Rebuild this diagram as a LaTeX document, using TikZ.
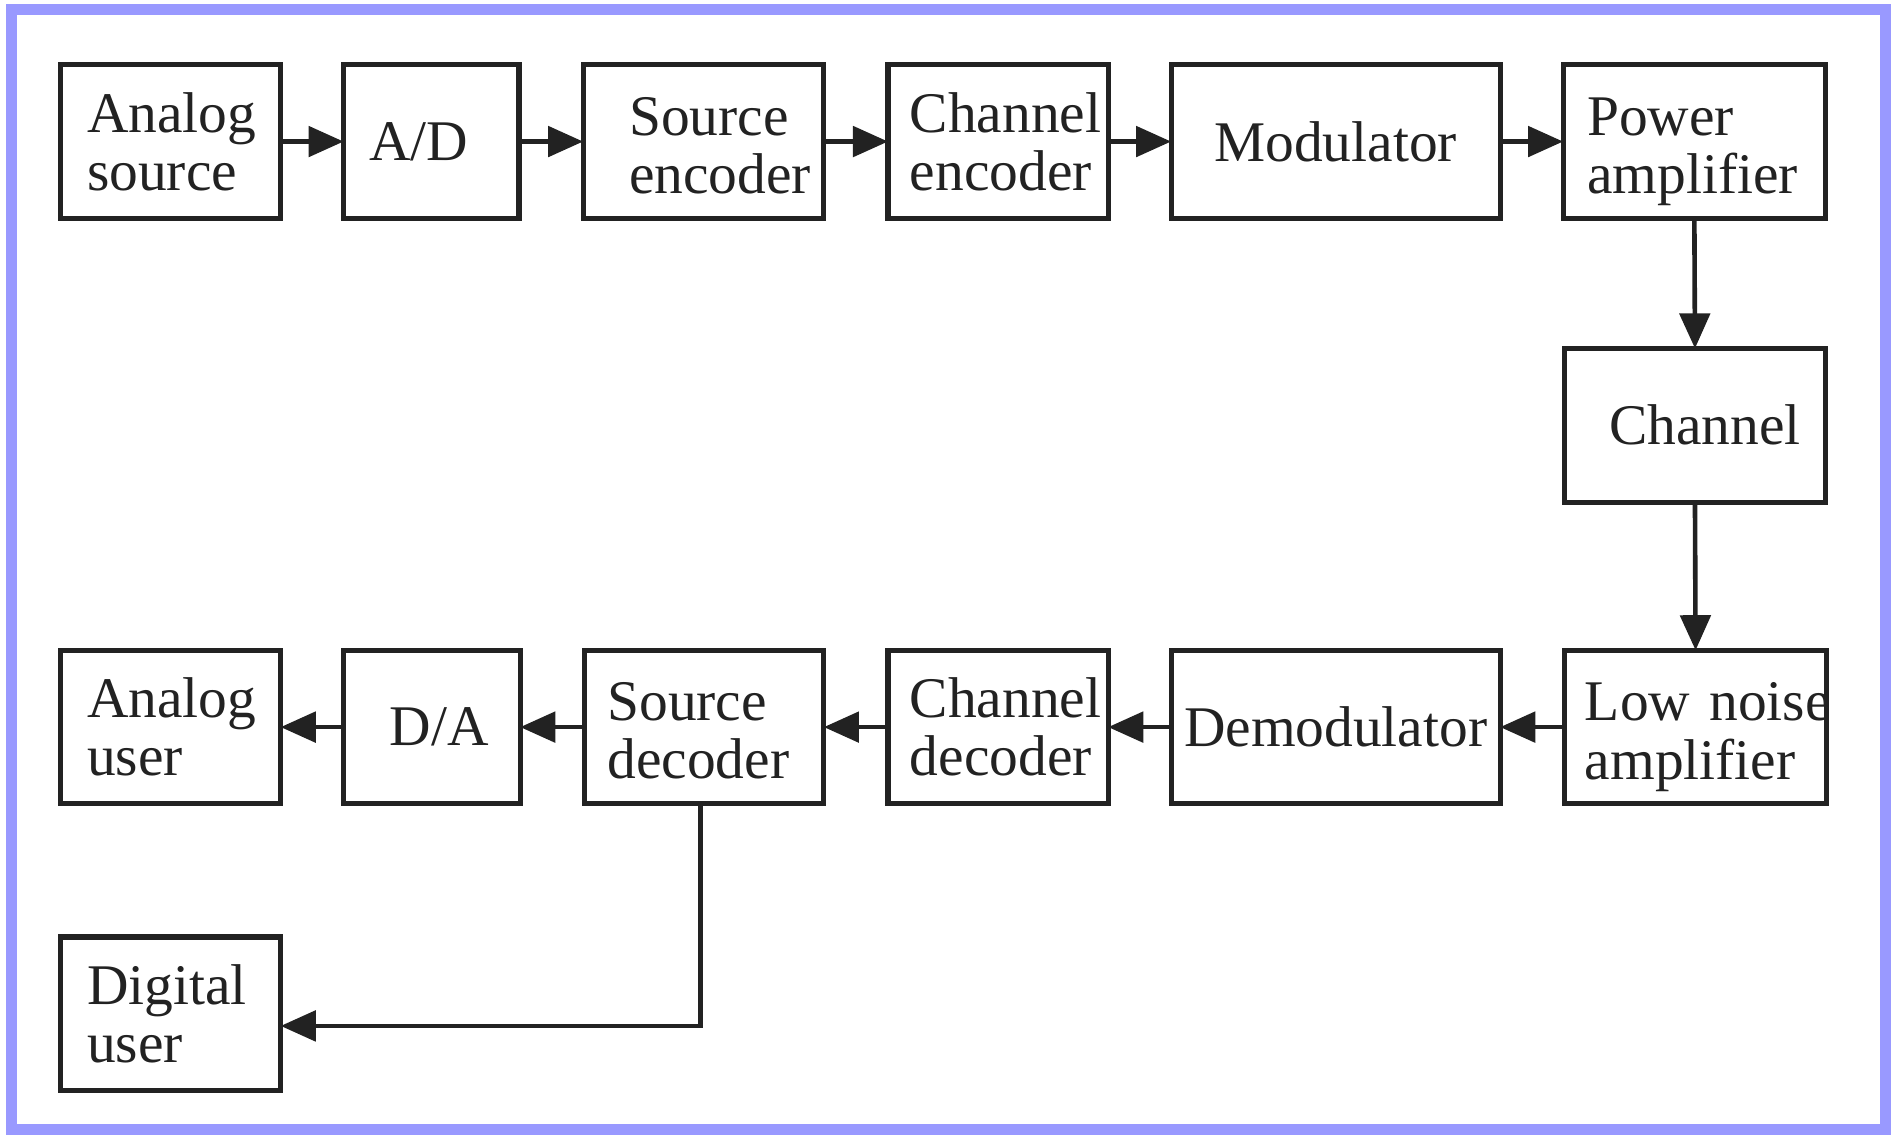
\documentclass[tikz,border=0pt]{standalone}
\usepackage{fontspec}
\setmainfont{Liberation Serif}
\usetikzlibrary{arrows.meta}
\definecolor{frame}{RGB}{153,153,255}
\definecolor{ink}{RGB}{34,34,34}
\hyphenpenalty=10000
\exhyphenpenalty=10000
\begin{document}
\begin{tikzpicture}[x=1pt,y=-1pt,
  blk/.style n args={3}{draw=ink, line width=4.2pt, outer sep=0pt,
    minimum width=#1pt, inner xsep=#2pt, inner ysep=0pt, text width=#3pt,
    minimum height=127pt, align=left, text=ink,
    font=\fontsize{47.5}{48}\selectfont},
  blkc/.style 2 args={blk={#1}{10}{#2}, align=center},
  lower/.style={text height=48pt},
  conn/.style={draw=ink, line width=3.8pt, -{Triangle[length=29pt,width=25pt]}}]
\useasboundingbox (0,0) rectangle (1568,941);
\fill[white] (0,0) rectangle (1568,941);
\draw[frame, line width=9pt] (9.5,8) rectangle (1558.5,933.5);

% top row
\node[blk={182}{22}{138}] (as) at (141,117) {Analog\\source};
\node[blk={145}{21}{103}] (ad) at (356.5,117) {A/D};
\node[blk={199}{38}{123}, text height=38pt] (se) at (581.5,117) {Source\\encoder};
\node[blk={182}{18}{146}] (ce) at (825,117) {Channel\\encoder};
\node[blkc={272}{252}] (mod) at (1104,117) {Modulator};
\node[blk={217}{20}{177}, lower] (pa) at (1400.5,117) {Power\\amplifier};
% channel
\node[blk={216}{37}{142}] (ch) at (1401,351.5) {Channel};
% bottom row
\node[blk={217}{17}{183}, lower] (lna) at (1401.5,601) {Low~noise\\amplifier};
\node[blkc={272}{252}] (dem) at (1104,601) {Demodulator};
\node[blk={182}{18}{146}] (cd) at (825,601) {Channel\\decoder};
\node[blk={198}{19}{160}, text height=38pt] (sd) at (582,601) {Source\\decoder};
\node[blk={146}{38}{70}] (da) at (357,601) {D/A};
\node[blk={182}{22}{138}] (au) at (141,601) {Analog\\user};
\node[blk={182}{22}{138}] (du) at (141,838) {Digital\\user};

% connectors
\draw[conn] (as.east) -- (ad.west);
\draw[conn] (ad.east) -- (se.west);
\draw[conn] (se.east) -- (ce.west);
\draw[conn] (ce.east) -- (mod.west);
\draw[conn] (mod.east) -- (pa.west);
\draw[conn] (pa.south) -- (ch.north);
\draw[conn] (ch.south) -- (lna.north);
\draw[conn] (lna.west) -- (dem.east);
\draw[conn] (dem.west) -- (cd.east);
\draw[conn] (cd.west) -- (sd.east);
\draw[conn] (sd.west) -- (da.east);
\draw[conn] (da.west) -- (au.east);
\draw[conn] ([xshift=-3pt]sd.south) |- ([yshift=-10pt]du.east);
\end{tikzpicture}
\end{document}
